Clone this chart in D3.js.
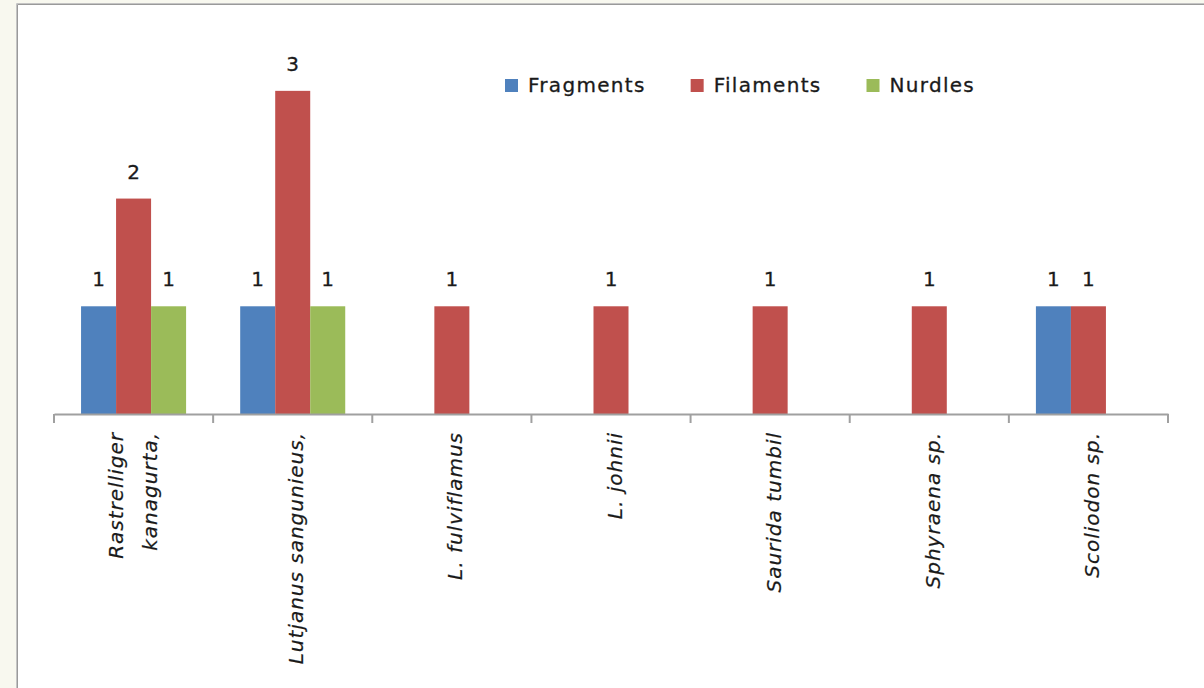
<!DOCTYPE html>
<html>
<head>
<meta charset="utf-8">
<script src="https://cdn.jsdelivr.net/npm/d3@7"></script>
<style>
  html, body { margin: 0; padding: 0; background: #f8f8ef; }
  svg { display: block; }
</style>
</head>
<body>
<svg id="chart" width="1204" height="688"></svg>
<script>
// Species (each entry is one label line)
const species = [
  ["Rastrelliger", "kanagurta,"],
  ["Lutjanus sangunieus,"],
  ["L. fulviflamus"],
  ["L. johnii"],
  ["Saurida tumbil"],
  ["Sphyraena sp."],
  ["Scoliodon sp."]
];
const seriesNames = ["Fragments", "Filaments", "Nurdles"];
const seriesColors = ["#4f81bd", "#c0504d", "#9bbb59"];

// Counts per species, one array per particle type (0 = none found)
const fragments = [1, 1, 0, 0, 0, 0, 1];
const filaments = [2, 3, 1, 1, 1, 1, 1];
const nurdles   = [1, 1, 0, 0, 0, 0, 0];

const seriesValues = [fragments, filaments, nurdles];

const svg = d3.select("#chart");
const W = 1204, H = 688;
const FONT = "DejaVu Sans, Verdana, sans-serif";

// Chart frame
svg.append("rect").attr("x", 16).attr("y", 3).attr("width", W).attr("height", H)
  .attr("fill", "#ffffff");
svg.append("path").attr("d", `M16.5,${H} V3.5 H${W}`)
  .attr("fill", "none").attr("stroke", "#c4c4c4").attr("stroke-width", 1);
svg.append("path").attr("d", `M17.5,${H} V4.5 H${W}`)
  .attr("fill", "none").attr("stroke", "#9a9a9a").attr("stroke-width", 1);

const plot = { left: 54, right: 1168, top: 37, bottom: 414 };

const keys = d3.range(species.length);
const x = d3.scaleBand().domain(keys).range([plot.left, plot.right]).padding(0);
const bw = x.bandwidth();
const gap = bw * 0.34;
const xSub = d3.scaleBand().domain(d3.range(seriesNames.length)).range([gap / 2, bw - gap / 2]);
const y = d3.scaleLinear().domain([0, 3.5]).range([plot.bottom, plot.top]);

// Flatten into one record per bar
const bars = [];
seriesValues.forEach((vals, s) => {
  vals.forEach((v, i) => { if (v > 0) bars.push({ i, s, v }); });
});

svg.append("g").selectAll("rect").data(bars).join("rect")
  .attr("x", d => x(d.i) + xSub(d.s))
  .attr("y", d => y(d.v))
  .attr("width", xSub.bandwidth())
  .attr("height", d => y(0) - y(d.v))
  .attr("fill", d => seriesColors[d.s]);

// Value labels
svg.append("g").selectAll("text").data(bars).join("text")
  .attr("x", d => x(d.i) + xSub(d.s) + xSub.bandwidth() / 2)
  .attr("y", d => y(d.v) - 20)
  .attr("text-anchor", "middle")
  .attr("font-family", FONT)
  .attr("font-size", 20)
  .attr("fill", "#1a1a1a")
  .attr("stroke", "#1a1a1a").attr("stroke-width", 0.3)
  .text(d => d3.format("d")(d.v));

// Category axis
const axisG = svg.append("g").attr("transform", `translate(0,${plot.bottom})`);
axisG.call(d3.axisBottom(x).tickValues([]).tickSizeOuter(0));
axisG.select(".domain").attr("stroke", "#a0a0a0").attr("stroke-width", 2);
const bounds = keys.map(k => x(k)).concat([plot.right]);
axisG.selectAll("line.tk").data(bounds).join("line").attr("class", "tk")
  .attr("x1", d => d).attr("x2", d => d)
  .attr("y1", 0).attr("y2", 9)
  .attr("stroke", "#a0a0a0").attr("stroke-width", 2);

// Rotated italic species names
const labelG = svg.append("g");
species.forEach((lines, i) => {
  const cx = x(i) + bw / 2;
  const offsets = lines.length === 1 ? [10.5] : [-10.5, 23.5];
  lines.forEach((line, j) => {
    const bx = cx + offsets[j];
    labelG.append("text")
      .attr("transform", `translate(${bx},432) rotate(-90)`)
      .attr("text-anchor", "end")
      .attr("font-family", FONT)
      .attr("font-style", "italic")
      .attr("font-size", 20)
      .attr("letter-spacing", 1)
      .attr("fill", "#1a1a1a")
      .attr("stroke", "#1a1a1a").attr("stroke-width", 0.2)
      .text(line);
  });
});

// Legend
const legend = svg.append("g");
let lx = 505;
seriesNames.forEach((name, s) => {
  legend.append("rect").attr("x", lx).attr("y", 79).attr("width", 13).attr("height", 13)
    .attr("fill", seriesColors[s]);
  const t = legend.append("text")
    .attr("x", lx + 23).attr("y", 92)
    .attr("font-family", FONT)
    .attr("font-size", 20)
    .attr("letter-spacing", 1.3)
    .attr("fill", "#1a1a1a")
    .attr("stroke", "#1a1a1a").attr("stroke-width", 0.3)
    .text(name);
  lx = lx + 23 + t.node().getComputedTextLength() + 45;
});
</script>
</body>
</html>
